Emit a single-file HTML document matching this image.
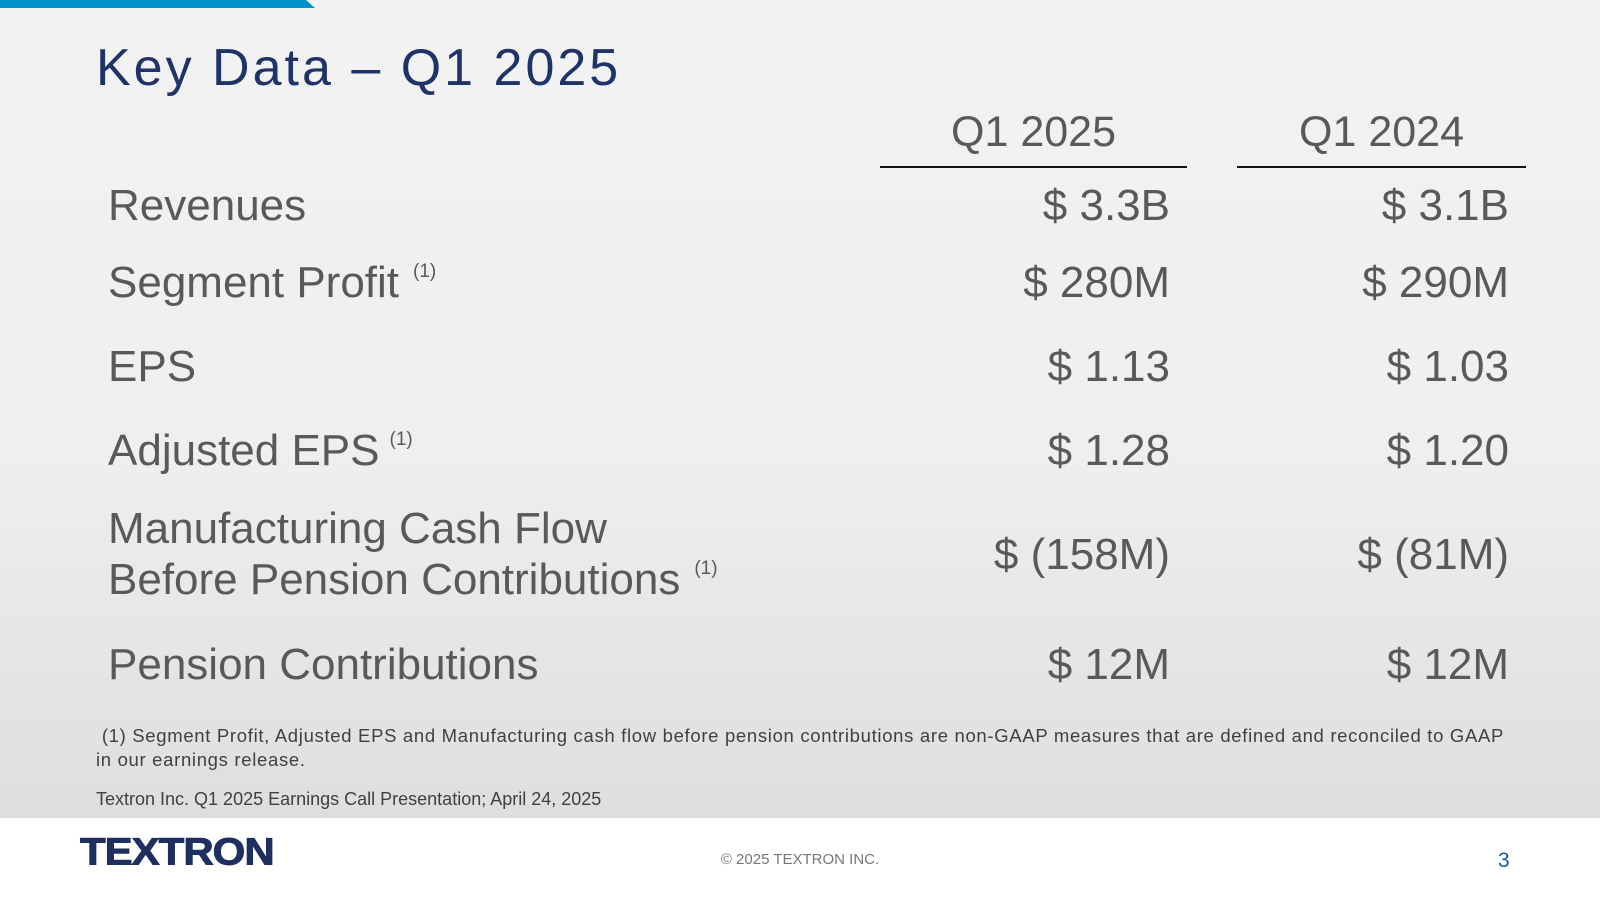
<!DOCTYPE html>
<html><head><meta charset="utf-8"><style>
body{margin:0;width:1600px;height:900px;position:relative;overflow:hidden;background:#fff;font-family:"Liberation Sans",Arial,sans-serif}
.bg{position:absolute;left:0;top:0;width:1600px;height:818px;background:linear-gradient(#f2f2f2 0%,#efefef 55%,#dedede 100%)}
.t{position:absolute;white-space:nowrap;line-height:1}
.lab{left:108px;font-size:44px;color:#595959}
.v1,.v2{font-size:44px;color:#595959;text-align:right}
.v1{right:430px}.v2{right:91px}
sup{font-size:19px;vertical-align:20px;margin-left:14px}
</style></head><body>
<div class="bg"></div>
<svg style="position:absolute;left:0;top:0" width="320" height="9"><polygon points="0,0 306,0 315,8 0,8" fill="#0093c9"/></svg>
<div class="t" style="left:96px;top:42px;font-size:52px;color:#1f3368;letter-spacing:3px">Key Data – Q1 2025</div>
<div class="t" style="left:880px;width:307px;text-align:center;top:111px;font-size:43px;color:#595959">Q1 2025</div>
<div class="t" style="left:1237px;width:289px;text-align:center;top:111px;font-size:43px;color:#595959">Q1 2024</div>
<div style="position:absolute;left:880px;top:166px;width:307px;height:2px;background:#111"></div>
<div style="position:absolute;left:1237px;top:166px;width:289px;height:2px;background:#111"></div>

<div class="t lab" style="top:184px">Revenues</div>
<div class="t v1" style="top:184px">$ 3.3B</div>
<div class="t v2" style="top:184px">$ 3.1B</div>

<div class="t lab" style="top:261px">Segment Profit<sup>(1)</sup></div>
<div class="t v1" style="top:261px">$ 280M</div>
<div class="t v2" style="top:261px">$ 290M</div>

<div class="t lab" style="top:345px">EPS</div>
<div class="t v1" style="top:345px">$ 1.13</div>
<div class="t v2" style="top:345px">$ 1.03</div>

<div class="t lab" style="top:429px">Adjusted EPS<sup style="margin-left:10px">(1)</sup></div>
<div class="t v1" style="top:429px">$ 1.28</div>
<div class="t v2" style="top:429px">$ 1.20</div>

<div class="t lab" style="top:507px">Manufacturing Cash Flow</div>
<div class="t lab" style="top:558px">Before Pension Contributions<sup>(1)</sup></div>
<div class="t v1" style="top:533px">$ (158M)</div>
<div class="t v2" style="top:533px">$ (81M)</div>

<div class="t lab" style="top:643px">Pension Contributions</div>
<div class="t v1" style="top:643px">$ 12M</div>
<div class="t v2" style="top:643px">$ 12M</div>

<div class="t" style="left:96px;top:727px;font-size:18.5px;color:#404040;letter-spacing:0.68px">&nbsp;(1) Segment Profit, Adjusted EPS and Manufacturing cash flow before pension contributions are non-GAAP measures that are defined and reconciled to GAAP</div>
<div class="t" style="left:96px;top:751px;font-size:18.5px;color:#404040;letter-spacing:0.68px">in our earnings release.</div>
<div class="t" style="left:96px;top:790px;font-size:18px;color:#404040">Textron Inc. Q1 2025 Earnings Call Presentation; April 24, 2025</div>

<div class="t" style="left:80px;top:833px;font-size:42px;font-weight:bold;color:#1f2f5f;letter-spacing:-1px;transform:scaleY(0.9);transform-origin:top left;-webkit-text-stroke:1px #1f2f5f">TEXTRON</div>
<div class="t" style="left:600px;width:400px;text-align:center;top:852px;font-size:15px;color:#777">© 2025 TEXTRON INC.</div>
<div class="t" style="left:1498px;top:850px;font-size:21px;color:#1a5aa8">3</div>
</body></html>
